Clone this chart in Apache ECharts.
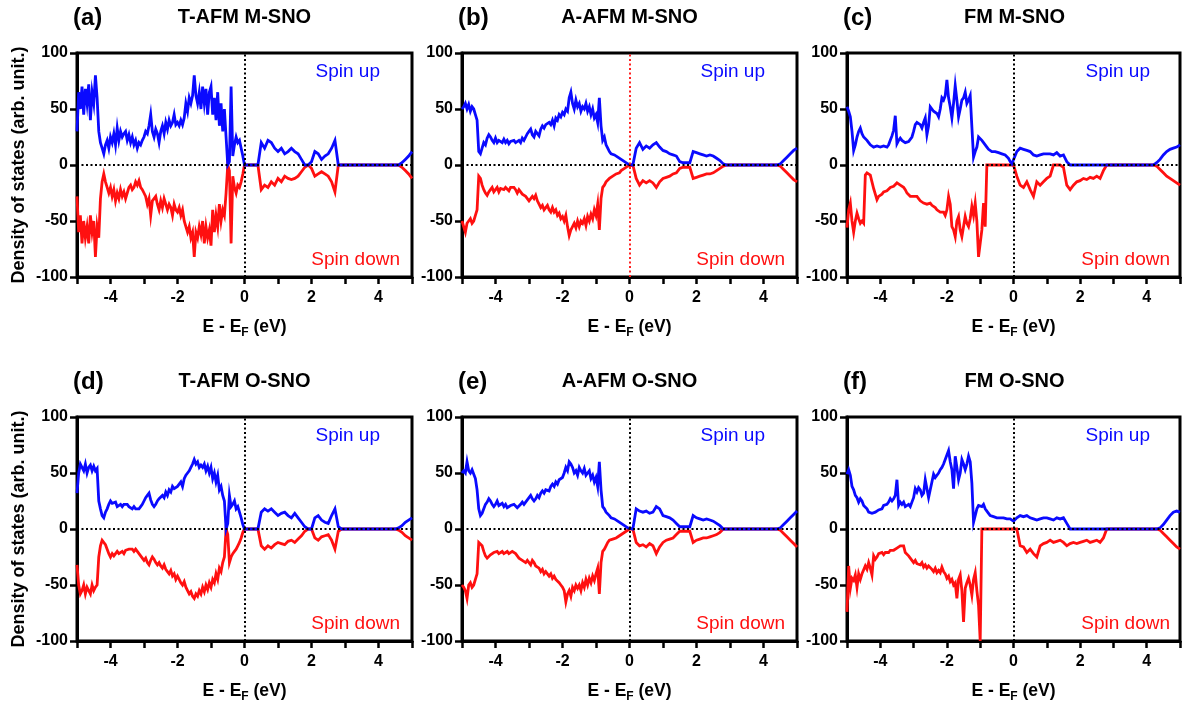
<!DOCTYPE html>
<html><head><meta charset="utf-8">
<script src="https://cdn.jsdelivr.net/npm/echarts@6/dist/echarts.min.js"></script>
<style>html,body{margin:0;padding:0;background:#fff}#chart{width:1183px;height:706px}</style>
</head><body><div id="chart"></div>
<script>
// ---------------- DATA ----------------
const energy = [
-5,-4.95,-4.9,-4.85,-4.8,-4.75,-4.7,-4.65,-4.6,-4.55,
-4.5,-4.45,-4.4,-4.35,-4.3,-4.25,-4.2,-4.15,-4.1,-4.05,
-4,-3.95,-3.9,-3.85,-3.8,-3.75,-3.7,-3.65,-3.6,-3.55,
-3.5,-3.45,-3.4,-3.35,-3.3,-3.25,-3.2,-3.15,-3.1,-3.05,
-3,-2.95,-2.9,-2.85,-2.8,-2.75,-2.7,-2.65,-2.6,-2.55,
-2.5,-2.45,-2.4,-2.35,-2.3,-2.25,-2.2,-2.15,-2.1,-2.05,
-2,-1.95,-1.9,-1.85,-1.8,-1.75,-1.7,-1.65,-1.6,-1.55,
-1.5,-1.45,-1.4,-1.35,-1.3,-1.25,-1.2,-1.15,-1.1,-1.05,
-1,-0.95,-0.9,-0.85,-0.8,-0.75,-0.7,-0.65,-0.6,-0.55,
-0.5,-0.45,-0.4,-0.35,-0.3,-0.25,-0.2,-0.15,-0.1,-0.05,
0,
0.1,0.2,0.3,0.4,0.5,0.6,0.7,0.8,0.9,1,
1.1,1.2,1.3,1.4,1.5,1.6,1.7,1.8,1.9,2,
2.1,2.2,2.3,2.4,2.5,2.6,2.7,2.8,2.9,3,
3.1,3.2,3.3,3.4,3.5,3.6,3.7,3.8,3.9,4,
4.1,4.2,4.3,4.4,4.5,4.6,4.7,4.8,4.9,5];

// (a) T-AFM M-SNO
const aUp = [
30,65,50,70,45,68,55,72,40,65,
55,80,60,30,20,15,10,18,22,15,
25,20,28,18,33,22,30,25,28,30,
22,27,20,25,18,22,15,20,18,22,
25,30,28,35,45,30,25,32,28,20,
30,35,28,38,32,40,35,38,45,36,
38,35,40,36,42,55,48,60,55,62,
80,62,55,65,50,70,55,68,45,65,
70,45,60,40,65,35,55,30,50,25,
0,3,70,8,18,25,20,22,15,8,
0,
0,0,0,0,20,15,22,20,15,12,
15,10,12,15,12,10,5,0,0,3,
12,10,5,8,10,15,22,0,0,0,
0,0,0,0,0,0,0,0,0,0,
0,0,0,0,0,0,2,5,8,12];
const aDown = [
-28,-60,-45,-70,-50,-65,-55,-70,-45,-60,
-50,-82,-55,-65,-30,-15,-8,-15,-20,-25,
-20,-28,-22,-32,-25,-30,-22,-28,-24,-30,
-25,-20,-18,-22,-20,-15,-18,-14,-20,-22,
-25,-28,-35,-30,-45,-32,-30,-28,-35,-40,
-32,-38,-30,-35,-40,-35,-38,-45,-35,-40,
-42,-38,-45,-40,-50,-55,-60,-55,-65,-60,
-82,-60,-65,-55,-62,-50,-70,-55,-65,-58,
-72,-40,-60,-45,-55,-35,-50,-40,-45,-25,
0,-5,-70,-10,-20,-25,-18,-20,-15,-8,
0,
0,0,0,0,-22,-18,-20,-15,-18,-12,
-15,-10,-12,-13,-12,-10,-6,-2,0,-3,
-10,-8,-6,-8,-10,-15,-24,0,0,0,
0,0,0,0,0,0,0,0,0,0,
0,0,0,0,0,0,-2,-5,-8,-12];

// (b) A-AFM M-SNO
const bUp = [
50,52,55,50,54,48,52,50,45,40,
12,10,15,20,18,24,27,25,22,20,
24,20,22,21,20,23,20,22,19,21,
20,22,20,19,22,20,24,22,25,28,
30,32,27,25,30,28,26,32,35,33,
36,35,38,36,40,35,42,40,45,43,
47,45,50,48,60,65,55,50,58,52,
55,48,52,50,55,48,52,45,50,42,
45,38,60,35,22,25,18,15,12,10,
10,9,8,7,6,5,4,3,2,1,
0,
0,15,20,14,17,15,18,20,16,13,
12,10,9,8,3,2,2,2,12,11,
10,9,8,9,8,6,4,1,0,0,
0,0,0,0,0,0,0,0,0,0,
0,0,0,0,1,4,7,10,13,15];
const bDown = [
-50,-55,-60,-52,-50,-48,-52,-50,-45,-40,
-10,-12,-18,-22,-25,-27,-24,-22,-20,-24,
-22,-20,-24,-21,-20,-22,-20,-21,-23,-20,
-21,-20,-22,-25,-22,-24,-26,-25,-28,-30,
-32,-30,-28,-30,-27,-32,-35,-38,-36,-40,
-38,-36,-40,-42,-38,-42,-40,-45,-43,-48,
-46,-50,-45,-55,-63,-58,-55,-52,-56,-50,
-55,-50,-52,-48,-54,-46,-50,-44,-48,-40,
-45,-35,-58,-30,-20,-18,-15,-14,-12,-11,
-10,-9,-8,-8,-7,-5,-4,-3,-2,-1,
0,
0,-12,-18,-14,-16,-14,-16,-20,-15,-12,
-11,-10,-8,-7,-3,-2,-2,-2,-12,-11,
-10,-9,-8,-8,-7,-5,-3,-1,0,0,
0,0,0,0,0,0,0,0,0,0,
0,0,0,0,-1,-4,-7,-10,-13,-15];

// (c) FM M-SNO
const cUp = [
52,48,43,30,13,18,25,30,33,28,
25,24,22,20,18,17,16,16,17,16,
16,15,17,16,16,18,22,26,31,44,
19,22,24,22,21,20,19,21,22,25,
30,36,38,39,36,33,38,42,27,35,
52,50,48,49,46,43,50,60,58,62,
76,60,52,42,55,71,58,43,50,58,
60,65,55,58,62,34,7,12,16,25,
25,22,20,18,16,14,13,12,12,12,
12,11,12,10,9,9,8,6,3,1,
0,
12,15,14,13,12,9,8,9,10,10,
10,9,11,8,9,3,0,0,0,0,
0,0,0,0,0,0,0,0,0,0,
0,0,0,0,0,0,0,0,0,0,
0,0,2,5,9,12,14,15,16,18];
const cDown = [
-56,-40,-34,-50,-60,-50,-43,-48,-52,-50,
-52,-9,-7,-8,-9,-15,-21,-26,-31,-28,
-28,-26,-24,-25,-23,-22,-20,-19,-19,-18,
-16,-17,-18,-19,-20,-22,-25,-26,-28,-27,
-28,-29,-28,-30,-32,-31,-34,-33,-35,-34,
-34,-36,-35,-38,-40,-39,-42,-41,-42,-45,
-40,-28,-35,-55,-58,-64,-50,-46,-58,-64,
-55,-46,-52,-55,-48,-37,-45,-34,-50,-82,
-70,-58,-34,-55,0,0,0,0,0,0,
0,0,0,0,0,0,0,0,0,0,
0,
-10,-18,-20,-15,-22,-28,-15,-18,-15,-12,
-10,0,0,0,-2,-18,-22,-18,-15,-14,
-12,-13,-11,-12,-10,-12,-5,0,0,0,
0,0,0,0,0,0,0,0,0,0,
0,0,-1,-4,-7,-10,-12,-14,-16,-18];

// (d) T-AFM O-SNO
const dUp = [
32,50,58,55,52,58,50,55,57,52,
56,52,54,25,18,12,10,15,18,22,
25,23,22,24,20,21,22,20,22,21,
22,20,19,18,20,18,17,18,20,22,
25,28,30,32,26,22,20,22,25,27,
28,30,28,33,30,35,33,38,36,35,
38,40,42,38,45,48,50,52,55,58,
62,58,60,55,57,55,58,52,56,50,
55,45,50,42,48,35,38,30,25,0,
5,30,20,22,25,18,20,15,10,4,
0,
0,0,0,0,15,18,16,18,15,12,
14,15,12,10,14,10,6,2,0,0,
10,12,8,6,5,12,18,2,0,0,
0,0,0,0,0,0,0,0,0,0,
0,0,0,0,0,1,3,6,8,10];
const dDown = [
-32,-50,-58,-55,-50,-58,-52,-55,-58,-50,
-55,-52,-50,-25,-15,-10,-9,-14,-18,-22,
-25,-22,-24,-22,-20,-22,-21,-20,-22,-19,
-20,-18,-19,-18,-20,-18,-19,-22,-24,-25,
-28,-26,-30,-32,-28,-25,-27,-30,-32,-30,
-33,-35,-32,-36,-38,-40,-37,-42,-40,-45,
-42,-45,-48,-50,-47,-52,-55,-58,-56,-60,
-62,-58,-60,-55,-58,-52,-56,-50,-54,-48,
-52,-45,-48,-40,-45,-35,-38,-30,-25,0,
-5,-30,-25,-22,-20,-18,-15,-12,-8,-3,
0,
0,0,0,0,-15,-18,-15,-17,-14,-12,
-13,-14,-11,-10,-12,-9,-6,-2,0,0,
-8,-10,-7,-6,-5,-10,-18,-2,0,0,
0,0,0,0,0,0,0,0,0,0,
0,0,0,0,0,-1,-3,-6,-8,-10];

// (e) A-AFM O-SNO
const eUp = [
50,52,50,60,52,50,53,52,45,35,
18,12,14,18,22,24,27,25,22,20,
22,25,21,20,23,20,22,19,20,21,
20,22,21,19,20,22,24,22,24,26,
28,30,27,25,27,30,28,32,34,32,
35,36,34,38,40,38,42,40,44,45,
46,50,55,52,60,58,55,50,52,48,
55,52,50,54,48,50,52,45,48,42,
46,38,60,35,20,18,15,14,12,10,
10,9,8,7,6,5,4,3,2,1,
0,
0,18,16,15,16,14,15,20,18,12,
11,10,8,5,2,2,2,2,12,10,
9,8,9,8,7,5,3,0,0,0,
0,0,0,0,0,0,0,0,0,0,
0,0,0,0,1,4,7,10,13,16];
const eDown = [
-50,-52,-55,-62,-50,-48,-52,-50,-45,-40,
-12,-12,-15,-20,-24,-26,-25,-23,-22,-21,
-22,-20,-22,-21,-20,-22,-21,-20,-22,-21,
-20,-21,-22,-24,-26,-25,-28,-27,-30,-28,
-30,-32,-28,-30,-33,-32,-35,-38,-36,-40,
-38,-40,-42,-40,-44,-42,-45,-44,-48,-50,
-52,-55,-65,-58,-55,-60,-52,-55,-50,-53,
-50,-55,-48,-52,-45,-50,-44,-48,-42,-46,
-40,-35,-58,-30,-20,-18,-15,-12,-10,-10,
-9,-8,-8,-7,-6,-5,-4,-3,-2,-1,
0,
0,-12,-15,-14,-16,-13,-15,-22,-16,-12,
-10,-9,-8,-5,-2,-2,-2,-2,-12,-10,
-9,-8,-8,-7,-6,-5,-3,0,0,0,
0,0,0,0,0,0,0,0,0,0,
0,0,0,0,-1,-4,-7,-10,-13,-16];

// (f) FM O-SNO
const fUp = [
49,53,48,38,35,30,28,24,27,25,
21,20,18,15,16,14,13,15,16,17,
16,18,21,20,22,24,27,25,27,30,
44,21,24,22,24,20,19,22,20,24,
28,36,33,37,35,30,32,44,36,28,
35,42,49,46,45,50,53,55,58,62,
66,70,60,53,36,65,55,44,50,62,
58,53,58,65,60,41,6,12,18,21,
22,20,22,18,16,14,12,12,11,12,
10,11,10,9,10,9,9,8,9,8,
7,
10,12,11,12,10,9,8,9,10,10,
9,8,10,9,10,5,0,0,0,0,
0,0,0,0,0,0,0,0,0,0,
0,0,0,0,0,0,0,0,0,0,
0,0,0,1,4,8,12,15,16,15];
const fDown = [
-74,-33,-53,-44,-46,-41,-52,-40,-45,-40,
-40,-33,-36,-30,-35,-41,-24,-27,-25,-22,
-22,-21,-23,-21,-20,-21,-19,-20,-19,-18,
-17,-16,-15,-16,-15,-21,-20,-24,-26,-28,
-30,-28,-31,-30,-32,-30,-34,-32,-35,-33,
-33,-36,-38,-35,-39,-37,-39,-34,-38,-40,
-44,-42,-47,-45,-50,-48,-62,-45,-41,-55,
-83,-53,-48,-44,-50,-59,-45,-39,-55,-68,
-100,0,0,0,0,0,0,0,0,0,
0,0,0,0,0,0,0,0,0,0,
0,
0,-15,-16,-21,-18,-22,-25,-15,-13,-12,
-10,-12,-11,-10,-12,-15,-13,-12,-13,-12,
-11,-10,-12,-11,-10,-12,-8,0,0,0,
0,0,0,0,0,0,0,0,0,0,
0,0,0,-1,-4,-7,-10,-13,-16,-18];

const panelLetters = ['(a)','(b)','(c)','(d)','(e)','(f)'];
const panelTitles = ['T-AFM M-SNO','A-AFM M-SNO','FM M-SNO','T-AFM O-SNO','A-AFM O-SNO','FM O-SNO'];
const upSeries = [aUp,bUp,cUp,dUp,eUp,fUp];
const downSeries = [aDown,bDown,cDown,dDown,eDown,fDown];
const spinUpText = 'Spin up';
const spinDownText = 'Spin down';
const yAxisTitle = 'Density of states (arb. unit.)';
const xAxisTitle = '{m|E - E}{s|F}{m| (eV)}';

// ---------------- LAYOUT / STYLE ----------------
const FONT = '"Liberation Sans", Arial, Helvetica, sans-serif';
const lefts = [77, 462, 847];
const tops = [53, 417];
const W = 335, H = 224;
const BLUE = '#0a0aff', RED = '#ff1010';
const vLineColors = ['#000','#ff2020','#000','#000','#000','#000'];

const grids = [], xAxes = [], yAxes = [], series = [], graphics = [];
for (let i = 0; i < 6; i++) {
  const col = i % 3, row = Math.floor(i / 3);
  const L = lefts[col], T = tops[row];
  grids.push({left: L, top: T, width: W, height: H, show: true, borderColor: '#000', borderWidth: 3, backgroundColor: 'transparent'});
  xAxes.push({
    gridIndex: i, type: 'value', min: -5, max: 5, interval: 1,
    axisLine: {show: true, onZero: false, lineStyle: {color: '#000', width: 3}},
    axisTick: {show: true, length: 7, lineStyle: {color: '#000', width: 2.5}},
    axisLabel: {color: '#000', fontSize: 16, fontWeight: 'bold', fontFamily: FONT, margin: 13,
      formatter: v => (Math.abs(v % 2) < 1e-9 ? String(v) : '')},
    splitLine: {show: false},
    name: xAxisTitle, nameLocation: 'middle', nameGap: 38,
    nameTextStyle: {rich: {
      m: {fontSize: 17.5, fontWeight: 'bold', fontFamily: FONT, color: '#000', lineHeight: 24, verticalAlign: 'middle'},
      s: {fontSize: 12, fontWeight: 'bold', fontFamily: FONT, color: '#000', lineHeight: 12, verticalAlign: 'bottom'}
    }}
  });
  yAxes.push({
    gridIndex: i, type: 'value', min: -100, max: 100, interval: 50,
    axisLine: {show: true, onZero: false, lineStyle: {color: '#000', width: 3}},
    axisTick: {show: true, length: 7, lineStyle: {color: '#000', width: 2.5}},
    axisLabel: {color: '#000', fontSize: 16, fontWeight: 'bold', fontFamily: FONT, margin: 9},
    splitLine: {show: false},
    name: col === 0 ? yAxisTitle : '', nameLocation: 'middle', nameGap: 49,
    nameTextStyle: {fontSize: 18, fontWeight: 'bold', fontFamily: FONT, color: '#000'}
  });
  series.push({
    type: 'line', xAxisIndex: i, yAxisIndex: i, data: [], z: 1, silent: true, animation: false,
    markLine: {symbol: ['none','none'], silent: true, animation: false, label: {show: false},
      lineStyle: {type: [2, 2.5], width: 2, color: '#000'},
      data: [{yAxis: 0}, {xAxis: 0, lineStyle: {color: vLineColors[i], type: [2, 2.5], width: 2}}]}
  });
  series.push({
    type: 'line', xAxisIndex: i, yAxisIndex: i, z: 2, animation: false, showSymbol: false, symbol: 'none',
    lineStyle: {color: RED, width: 2.8, join: 'miter'},
    data: energy.map((e, k) => [e, downSeries[i][k]])
  });
  series.push({
    type: 'line', xAxisIndex: i, yAxisIndex: i, z: 3, animation: false, showSymbol: false, symbol: 'none',
    lineStyle: {color: BLUE, width: 2.8, join: 'miter'},
    data: energy.map((e, k) => [e, upSeries[i][k]])
  });
  const txt = (text, x, y, font, fill, align) => ({
    type: 'text', x: x, y: y, silent: true,
    style: {text: text, font: font, fill: fill, align: align, textAlign: align, verticalAlign: 'middle', textVerticalAlign: 'middle'}
  });
  graphics.push(txt(panelLetters[i], L - 4, T - 35, 'bold 24px ' + FONT, '#000', 'left'));
  graphics.push(txt(panelTitles[i], L + W / 2, T - 36, 'bold 20px ' + FONT, '#000', 'center'));
  graphics.push(txt(spinUpText, L + W - 32, T + 19, '19px ' + FONT, BLUE, 'right'));
  graphics.push(txt(spinDownText, L + W - 12, T + 207, '19px ' + FONT, RED, 'right'));
}

const chart = echarts.init(document.getElementById('chart'), null, {renderer: 'canvas'});
chart.setOption({
  animation: false,
  backgroundColor: '#fff',
  grid: grids, xAxis: xAxes, yAxis: yAxes, series: series, graphic: graphics
});
</script></body></html>
